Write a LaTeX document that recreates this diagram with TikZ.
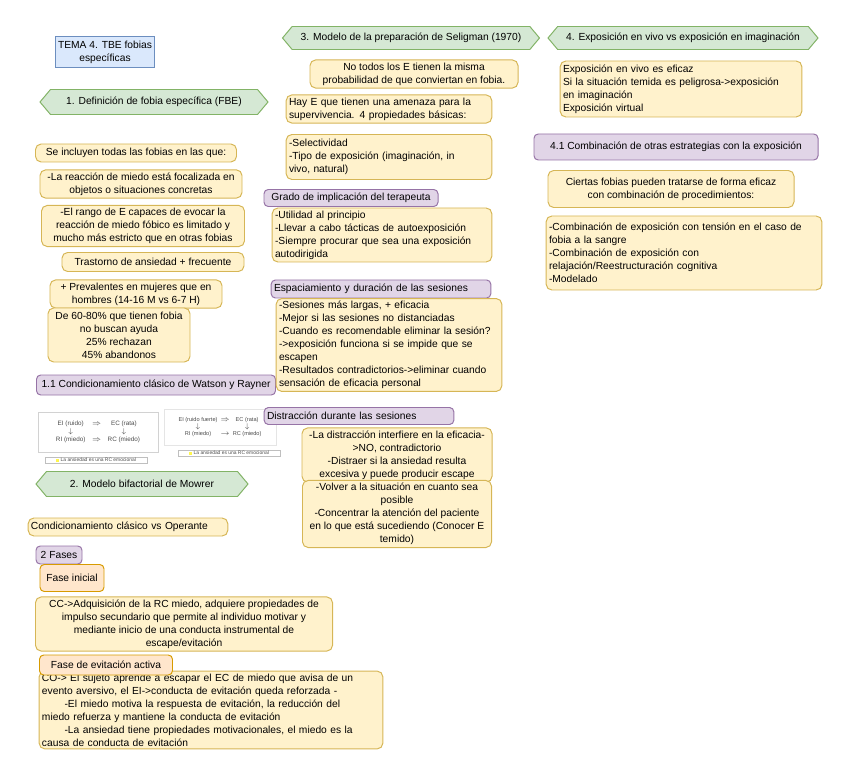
\documentclass[tikz,border=0pt]{standalone}
\usepackage{fontspec}
\setmainfont{Liberation Sans}
\usetikzlibrary{positioning,shapes.symbols}

\definecolor{yelF}{HTML}{FFF2CC}
\definecolor{yelB}{HTML}{D6B656}
\definecolor{purF}{HTML}{E1D5E7}
\definecolor{purB}{HTML}{9673A6}
\definecolor{grnF}{HTML}{D5E8D4}
\definecolor{grnB}{HTML}{82B366}
\definecolor{bluF}{HTML}{DAE8FC}
\definecolor{bluB}{HTML}{6C8EBF}
\definecolor{orgF}{HTML}{FFE6CC}
\definecolor{orgB}{HTML}{D79B00}

\begin{document}
\begin{tikzpicture}[
      x=0.25mm, y=-0.25mm,
      font=\fontsize{7.3}{9.2}\selectfont,
      ybox/.style={draw=yelB, fill=yelF, rounded corners=4pt, line width=0.7pt, inner sep=2pt, align=center},
      pbox/.style={draw=purB, fill=purF, rounded corners=3pt, line width=0.7pt, inner sep=2pt, align=center},
      obox/.style={draw=orgB, fill=orgF, rounded corners=3pt, line width=0.7pt, inner sep=2pt, align=center},
      tbox/.style={draw=bluB, fill=bluF, line width=0.7pt, inner sep=2pt, align=center},
      hexa/.style={signal, signal to=west and east, signal pointer angle=100, draw=grnB, fill=grnF, line width=0.7pt, inner sep=2pt},
      fig/.style={draw=gray!35, fill=white, inner sep=2pt, text=black!70, font=\fontsize{4.5}{5.5}\selectfont},
      figcap/.style={draw=gray!50, fill=white, inner sep=1pt, text=black!70, font=\fontsize{3.5}{4}\selectfont},
    ]
    \useasboundingbox (0,0) rectangle (848,773);

    \node[tbox, minimum width=21.5mm, minimum height=7.75mm] (tema) at (105,52) {TEMA 4. TBE fobias\\específicas};

    \node[hexa, minimum width=57mm, minimum height=6.25mm] (def) at (154,102) {1. Definición de fobia específica (FBE)};
    \node[ybox, minimum width=50.25mm, minimum height=4.5mm] (incl) at (136,153) {Se incluyen todas las fobias en las que:};
    \node[ybox, minimum width=50.5mm, minimum height=7mm] (reac) at (141,184) {-La reacción de miedo está focalizada en\\objetos o situaciones concretas};
    \node[ybox, minimum width=50.75mm, minimum height=9.5mm] (rango) at (143,226) {-El rango de E capaces de evocar la\\reacción de miedo fóbico es limitado y\\mucho más estricto que en otras fobias};
    \node[ybox, minimum width=45.5mm, minimum height=4.75mm] (trast) at (153,262) {Trastorno de ansiedad + frecuente};
    \node[ybox, minimum width=43mm, minimum height=6.75mm] (prev) at (136,294) {+ Prevalentes en mujeres que en\\hombres (14-16 M vs 6-7 H)};
    \node[ybox, minimum width=35.5mm, minimum height=13.5mm] (ayuda) at (119,335) {De 60-80\% que tienen fobia\\no buscan ayuda\\25\% rechazan\\45\% abandonos};

    \node[pbox, anchor=west, minimum width=59.75mm, minimum height=5mm] (watson) at (36,385) {1.1 Condicionamiento clásico de Watson y Rayner};

    \node[fig, minimum width=30mm, minimum height=10mm] (fig1) at (98,432) {\begin{tabular}{@{}c@{\quad}c@{\quad}c@{}}EI (ruido) & $\Rightarrow$ & EC (rata)\\ $\downarrow$ & & $\downarrow$\\ RI (miedo) & $\Rightarrow$ & RC (miedo)\end{tabular}};
    \node[figcap, minimum width=25.5mm] (cap1) at (96,460) {{\color{yellow!70}\rule{0.8mm}{0.8mm}} La ansiedad es una RC emocional};
    \node[fig, draw=gray!20, minimum width=28mm, minimum height=9mm, font=\fontsize{4}{5}\selectfont] (fig2) at (220,427) {\begin{tabular}{@{}c@{\enspace}c@{\enspace}c@{}}EI (ruido fuerte) & $\Rightarrow$ & EC (rata)\\ $\downarrow$ & & $\downarrow$\\ RI (miedo) & $\rightarrow$ & RC (miedo)\end{tabular}};
    \node[figcap, minimum width=25.5mm] (cap2) at (229,453) {{\color{yellow!70}\rule{0.8mm}{0.8mm}} La ansiedad es una RC emocional};

    \node[hexa, minimum width=53mm, minimum height=6.25mm] (mowrer) at (142,484) {2. Modelo bifactorial de Mowrer};
    \node[ybox, text width=48.5mm, align=left, minimum height=4.5mm] (cco) at (128,527) {Condicionamiento clásico vs Operante};
    \node[pbox, minimum width=11.5mm, minimum height=4.5mm] (fases) at (59,555) {2 Fases};
    \node[obox, minimum width=16mm, minimum height=6.75mm] (ini) at (72,578) {Fase inicial};
    \node[ybox, minimum width=74.25mm, minimum height=12mm] (cc) at (184,624) {CC->Adquisición de la RC miedo, adquiere propiedades de\\impulso secundario que permite al individuo motivar y\\mediante inicio de una conducta instrumental de\\escape/evitación};
    \node[ybox, text width=84.5mm, align=left, minimum height=19mm] (co) at (211,710) {CO-> El sujeto aprende a escapar el EC de miedo que avisa de un\\evento aversivo, el EI->conducta de evitación queda reforzada -\\\hspace*{2.2em}-El miedo motiva la respuesta de evitación, la reducción del\\miedo refuerza y mantiene la conducta de evitación\\\hspace*{2.2em}-La ansiedad tiene propiedades motivacionales, el miedo es la\\causa de conducta de evitación};
    \node[obox, minimum width=33.25mm, minimum height=5mm] (evit) at (106,665) {Fase de evitación activa};

    \node[hexa, minimum width=64.25mm, minimum height=5.75mm] (selig) at (411,38) {3. Modelo de la preparación de Seligman (1970)};
    \node[ybox, minimum width=52mm, minimum height=7mm] (todos) at (414,74) {No todos los E tienen la misma\\probabilidad de que conviertan en fobia.};
    \node[ybox, text width=50mm, align=left, minimum height=6.5mm] (amen) at (389,109) {Hay E que tienen una amenaza para la\\supervivencia. 4 propiedades básicas:};
    \node[ybox, text width=50mm, align=left, minimum height=11.25mm] (selec) at (389,157) {-Selectividad\\-Tipo de exposición (imaginación, in\\vivo, natural)};
    \node[pbox, minimum width=43.5mm, minimum height=4.25mm] (grado) at (351,198) {Grado de implicación del terapeuta};
    \node[ybox, text width=53.5mm, align=left, minimum height=13.5mm] (util) at (382,235) {-Utilidad al principio\\-Llevar a cabo tácticas de autoexposición\\-Siempre procurar que sea una exposición\\autodirigida};
    \node[pbox, text width=53.5mm, align=left, minimum height=4.5mm] (espac) at (381,289) {Espaciamiento y duración de las sesiones};
    \node[ybox, text width=55mm, align=left, minimum height=22.5mm] (sesion) at (389,345) {-Sesiones más largas, + eficacia\\-Mejor si las sesiones no distanciadas\\-Cuando es recomendable eliminar la sesión?\\->exposición funciona si se impide que se\\escapen\\-Resultados contradictorios->eliminar cuando\\sensación de eficacia personal};
    \node[pbox, text width=46mm, align=left, minimum height=4.25mm] (distr) at (359,416) {Distracción durante las sesiones};
    \node[ybox, minimum width=47.5mm, minimum height=13.5mm] (interf) at (397,455) {-La distracción interfiere en la eficacia-\\>NO, contradictorio\\-Distraer si la ansiedad resulta\\excesiva y puede producir escape};
    \node[ybox, minimum width=47.25mm, minimum height=16mm] (volver) at (397,514) {-Volver a la situación en cuanto sea\\posible\\-Concentrar la atención del paciente\\en lo que está sucediendo (Conocer E\\temido)};

    \node[hexa, minimum width=67.5mm, minimum height=5.75mm] (vivo) at (683,38) {4. Exposición en vivo vs exposición en imaginación};
    \node[ybox, text width=59mm, align=left, minimum height=14mm] (eficaz) at (681,89) {Exposición en vivo es eficaz\\Si la situación temida es peligrosa->exposición\\en imaginación\\Exposición virtual};
    \node[pbox, minimum width=71mm, minimum height=6.5mm] (comb) at (676,147) {4.1 Combinación de otras estrategias con la exposición};
    \node[ybox, minimum width=61.5mm, minimum height=9.25mm] (ciert) at (671,189) {Ciertas fobias pueden tratarse de forma eficaz\\con combinación de procedimientos:};
    \node[ybox, text width=67.5mm, align=left, minimum height=18.5mm] (tens) at (684,253) {-Combinación de exposición con tensión en el caso de\\fobia a la sangre\\-Combinación de exposición con\\relajación/Reestructuración cognitiva\\-Modelado};
  \end{tikzpicture}
\end{document}
